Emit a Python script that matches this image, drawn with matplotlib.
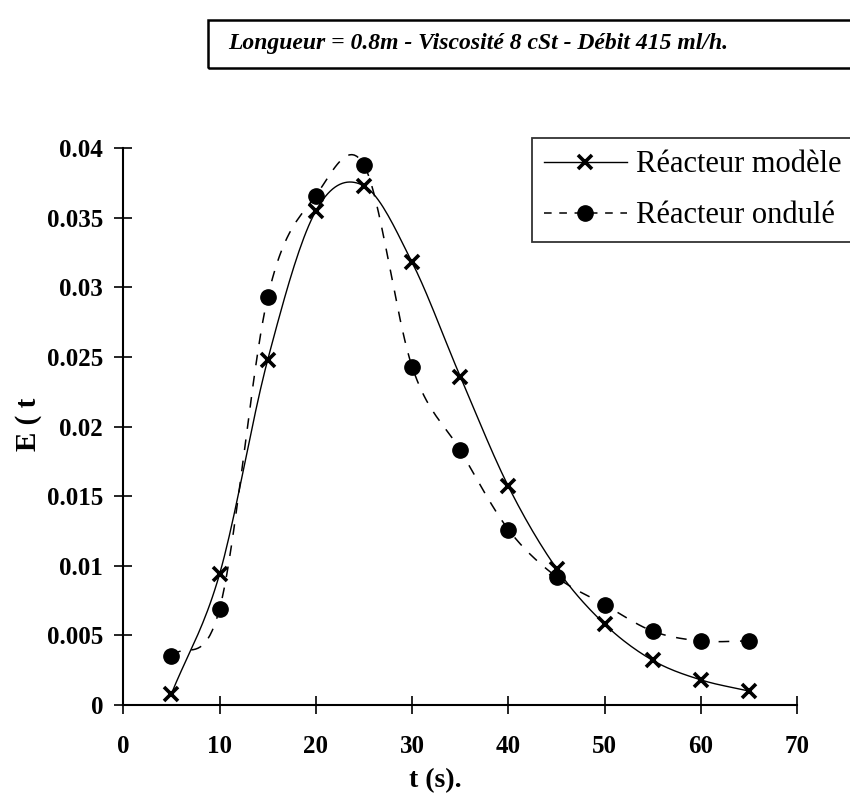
import numpy as np
import matplotlib
matplotlib.use("Agg")
import matplotlib.pyplot as plt
from matplotlib.ticker import FuncFormatter, MultipleLocator
from matplotlib.patches import Rectangle

plt.rcParams['font.family'] = ['Liberation Serif', 'DejaVu Serif']

# data
t = [5, 10, 15, 20, 25, 30, 35, 40, 45, 50, 55, 60, 65]
e_modele = [0.0008, 0.0094, 0.0248, 0.0355, 0.0373, 0.0318, 0.0236,
            0.0157, 0.0098, 0.0058, 0.0032, 0.0018, 0.0010]
e_ondule = [0.0035, 0.0069, 0.0293, 0.0366, 0.0388, 0.0243, 0.0183,
            0.0126, 0.0092, 0.0072, 0.0053, 0.0046, 0.0046]

title = "Longueur = 0.8m - Viscosité 8 cSt - Débit 415 ml/h."
labels = ["Réacteur modèle", "Réacteur ondulé"]
xticks = [0, 10, 20, 30, 40, 50, 60, 70]


def smooth(x, y, n=20):
    # catmull-rom curve through the points (like the excel "smoothed line")
    x = np.asarray(x, float)
    y = np.asarray(y, float)
    px = np.concatenate([[2 * x[0] - x[1]], x, [2 * x[-1] - x[-2]]])
    py = np.concatenate([[2 * y[0] - y[1]], y, [2 * y[-1] - y[-2]]])
    s = np.linspace(0, 1, n, endpoint=False)
    xs, ys = [], []
    for i in range(1, len(px) - 2):
        for p, out in ((px, xs), (py, ys)):
            p0, p1, p2, p3 = p[i - 1], p[i], p[i + 1], p[i + 2]
            out.extend(0.5 * (2 * p1 + (-p0 + p2) * s
                              + (2 * p0 - 5 * p1 + 4 * p2 - p3) * s ** 2
                              + (-p0 + 3 * p1 - 3 * p2 + p3) * s ** 3))
    xs.append(x[-1])
    ys.append(y[-1])
    return xs, ys


fig = plt.figure(figsize=(8.5, 7.93), dpi=100)
ax = fig.add_axes([0.145, 0.111, 0.793, 0.702])

sx, sy = smooth(t, e_modele)
ax.plot(sx, sy, color='black', lw=1.0)
ax.plot(t, e_modele, ls='none', marker='x', ms=10, mew=2.6, color='black')
sx, sy = smooth(t, e_ondule)
ax.plot(sx, sy, color='black', lw=1.1, ls=(0, (7, 7)))
ax.plot(t, e_ondule, ls='none', marker='o', ms=11, color='black')

ax.set_xlim(0, 70)
ax.set_ylim(0, 0.04)
ax.set_xticks(xticks)
ax.yaxis.set_major_locator(MultipleLocator(0.005))
ax.yaxis.set_major_formatter(FuncFormatter(lambda v, p: '%g' % round(v, 4)))
for s in ['top', 'right']:
    ax.spines[s].set_visible(False)
for s in ['left', 'bottom']:
    ax.spines[s].set_linewidth(1.5)
ax.tick_params(axis='both', direction='inout', length=13, width=1.2,
               labelsize=18)
ax.tick_params(axis='x', pad=15)
ax.tick_params(axis='y', pad=8)
for lab in ax.get_xticklabels() + ax.get_yticklabels():
    lab.set_fontweight('bold')

fig.text(0.512, 1 - 781 / 793, "t (s).", fontsize=20, fontweight='bold',
         ha='center', va='center')
fig.text(0.033, 0.465, "E ( t", fontsize=21, fontweight='bold',
         rotation=90, va='center', ha='center')

# legend (handles made from the plotted styles)
h1, = ax.plot([], [], color='black', lw=1.0, marker='x', ms=10, mew=2.6)
h2, = ax.plot([], [], color='black', lw=1.1, ls=(0, (5, 5)), marker='o', ms=11)
leg = ax.legend([h1, h2], labels, loc='upper left',
                bbox_to_anchor=(532 / 850, 1 - 138 / 793),
                bbox_transform=fig.transFigure, fontsize=22, frameon=True,
                fancybox=False, handlelength=2.7, borderpad=0.4,
                labelspacing=0.72, handletextpad=0.3, borderaxespad=0)
leg.get_frame().set_edgecolor('black')
leg.get_frame().set_linewidth(1.3)

# title box, running off the right edge like in the scan
fig.patches.append(Rectangle((208 / 850, 1 - 68 / 793), 0.9, 48 / 793,
                             transform=fig.transFigure, fill=False,
                             edgecolor='black', lw=1.8))
fig.text(228 / 850, 1 - 44 / 793, title, fontsize=17, fontweight='bold',
         fontstyle='italic', va='center', ha='left')

plt.savefig('out.png', dpi=100)
